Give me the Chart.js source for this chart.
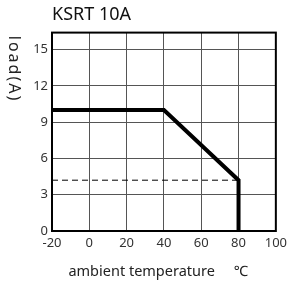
<!DOCTYPE html>
<html>
<head>
<meta charset="utf-8">
<script src="https://cdn.jsdelivr.net/npm/chart.js@4.4.0/dist/chart.umd.min.js"></script>
<style>
  html, body { margin: 0; padding: 0; background: #fff; }
  #wrap { position: relative; width: 291px; height: 283px; }
</style>
</head>
<body>
<div id="wrap"><canvas id="derating"></canvas></div>
<script>
// derating curve, values
const tempPoints = [-20, 40, 80, 80];
const loadPoints = [10, 10, 4.2, 0];
const limitTemps = [-20, 80];
const limitLoads = [4.2, 4.2];

const xTicks = [-20, 0, 20, 40, 60, 80, 100];
const yTicks = [0, 3, 6, 9, 12, 15];
const xRange = [-20, 100];
const yRange = [0, 16.4];

const chartTitle = 'KSRT 10A';
// trailing spaces nudge the centred title a bit left, like the original
const xTitle = 'ambient temperature     ℃   ';
const yTitle = 'load(A)';

const FONT = '"Noto Sans", "Noto Sans CJK KR", sans-serif';

// plot frame + y title reading top to bottom (chart.js only rotates the other way)
const framePlugin = {
    id: 'frame',
    afterDraw(chart) {
        const { ctx, chartArea: a } = chart;
        ctx.save();
        ctx.strokeStyle = '#000';
        ctx.lineWidth = 2;
        ctx.strokeRect(a.left, a.top, a.right - a.left, a.bottom - a.top);
        ctx.translate(14, 69);
        ctx.rotate(Math.PI / 2);
        ctx.font = '16px ' + FONT;
        ctx.letterSpacing = '2px';
        ctx.fillStyle = '#222';
        ctx.textAlign = 'center';
        ctx.textBaseline = 'middle';
        ctx.fillText(yTitle, 0, 0);
        ctx.restore();
    }
};

const toXY = (xs, ys) => xs.map((x, i) => ({ x: x, y: ys[i] }));

new Chart(document.getElementById('derating'), {
    type: 'line',
    data: {
        datasets: [{
            data: toXY(tempPoints, loadPoints),
            borderColor: '#000',
            borderWidth: 4,
            borderJoinStyle: 'miter',
            pointRadius: 0,
            tension: 0
        }, {
            data: toXY(limitTemps, limitLoads),
            borderColor: '#000',
            borderWidth: 1,
            borderDash: [6, 4],
            pointRadius: 0
        }]
    },
    options: {
        responsive: true,
        maintainAspectRatio: false,
        animation: false,
        layout: { padding: { left: 0, right: 12, top: 0, bottom: 0 } },
        plugins: {
            legend: { display: false },
            tooltip: { enabled: false },
            title: {
                display: true,
                text: chartTitle,
                align: 'start',
                fullSize: false,
                color: '#111',
                font: { family: FONT, size: 18, weight: 'normal' },
                padding: { top: 4, bottom: 7 }
            }
        },
        scales: {
            x: {
                type: 'linear',
                min: xRange[0],
                max: xRange[1],
                afterBuildTicks: s => { s.ticks = xTicks.map(v => ({ value: v })); },
                afterFit: s => { s.height = 52; },
                grid: { color: '#555', lineWidth: 1, drawTicks: false },
                border: { display: false },
                ticks: { color: '#333', padding: 4, maxRotation: 0, font: { family: FONT, size: 13 } },
                title: {
                    display: true,
                    text: xTitle,
                    color: '#222',
                    font: { family: FONT, size: 14.5 },
                    padding: { top: 2, bottom: 2 }
                }
            },
            y: {
                min: yRange[0],
                max: yRange[1],
                afterBuildTicks: s => { s.ticks = yTicks.map(v => ({ value: v })); },
                afterFit: s => { s.width = 52; },
                grid: { color: '#555', lineWidth: 1, drawTicks: false },
                border: { display: false },
                ticks: { color: '#333', padding: 4, font: { family: FONT, size: 13 } }
            }
        }
    },
    plugins: [framePlugin]
});
</script>
</body>
</html>
